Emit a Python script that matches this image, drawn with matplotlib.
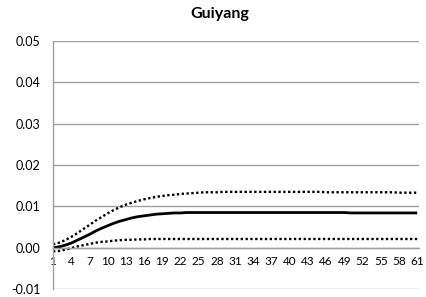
import numpy as np
import matplotlib
matplotlib.use('Agg')
import matplotlib.pyplot as plt

# ---------------------
# Data
# ---------------------
periods = list(range(1, 62))

response = [
    0.0000, 0.0002, 0.0006, 0.0011, 0.0018, 0.0025, 0.0032, 0.0040, 0.0047, 0.0053,
    0.0059, 0.0064, 0.0068, 0.0072, 0.0075, 0.0077, 0.0079, 0.0081, 0.0082, 0.0083,
    0.0084, 0.0084, 0.0085, 0.0085, 0.0085, 0.0085, 0.0085, 0.0085, 0.0085, 0.0085,
    0.0085, 0.0085, 0.0085, 0.0085, 0.0085, 0.0085, 0.0085, 0.0085, 0.0085, 0.0085,
    0.0085, 0.0085, 0.0085, 0.0085, 0.0085, 0.0085, 0.0085, 0.0085, 0.0085, 0.0084,
    0.0084, 0.0084, 0.0084, 0.0084, 0.0084, 0.0084, 0.0084, 0.0084, 0.0084, 0.0084,
    0.0084,
]

upper = [
    0.0008, 0.0012, 0.0018, 0.0026, 0.0035, 0.0045, 0.0055, 0.0065, 0.0074, 0.0083,
    0.0091, 0.0098, 0.0104, 0.0109, 0.0113, 0.0117, 0.0120, 0.0123, 0.0125, 0.0127,
    0.0128, 0.0130, 0.0131, 0.0132, 0.0133, 0.0134, 0.0134, 0.0134, 0.0135, 0.0135,
    0.0135, 0.0135, 0.0135, 0.0135, 0.0135, 0.0135, 0.0135, 0.0135, 0.0135, 0.0135,
    0.0135, 0.0135, 0.0135, 0.0135, 0.0135, 0.0134, 0.0134, 0.0134, 0.0134, 0.0134,
    0.0134, 0.0134, 0.0134, 0.0134, 0.0134, 0.0134, 0.0134, 0.0133, 0.0133, 0.0133,
    0.0133,
]

lower = [
    -0.0009, -0.0008, -0.0005, -0.0001, 0.0003, 0.0006, 0.0009, 0.0012, 0.0014, 0.0015,
    0.0017, 0.0018, 0.0019, 0.0019, 0.0020, 0.0020, 0.0021, 0.0021, 0.0021, 0.0021,
    0.0021, 0.0021, 0.0021, 0.0021, 0.0021, 0.0021, 0.0021, 0.0021, 0.0021, 0.0021,
    0.0021, 0.0021, 0.0021, 0.0021, 0.0021, 0.0021, 0.0021, 0.0021, 0.0021, 0.0021,
    0.0021, 0.0021, 0.0021, 0.0021, 0.0021, 0.0021, 0.0021, 0.0021, 0.0021, 0.0021,
    0.0021, 0.0021, 0.0021, 0.0021, 0.0021, 0.0021, 0.0021, 0.0021, 0.0021, 0.0021,
    0.0021,
]

y_ticks = [-0.01, 0.00, 0.01, 0.02, 0.03, 0.04, 0.05]
x_ticks = list(range(1, 62, 3))
title = 'Guiyang'

# ---------------------
# Plot
# ---------------------
plt.rcParams['font.family'] = ['Lato', 'DejaVu Sans']
grid_color = '#a0a0a0'

fig = plt.figure(figsize=(4.26, 2.97), dpi=100)
ax = fig.add_axes([53 / 426, 8 / 297, 366 / 426, 248 / 297])

ax.plot(periods, upper, color='black', lw=1.7, linestyle=(0, (1, 1.05)))
ax.plot(periods, lower, color='black', lw=1.7, linestyle=(0, (1, 1.05)))
ax.plot(periods, response, color='black', lw=2.0, solid_capstyle='butt')

ax.set_xlim(1, 61.3)
ax.set_ylim(-0.01, 0.05)
ax.set_yticks(y_ticks)
ax.set_yticklabels([f'{v:.2f}' for v in y_ticks])
ax.set_xticks(x_ticks)
ax.set_xticklabels([str(v) for v in x_ticks])

ax.grid(axis='y', color=grid_color, lw=1.0)
ax.set_axisbelow(True)
for side in ['top', 'right']:
    ax.spines[side].set_visible(False)
ax.spines['left'].set_color(grid_color)
ax.spines['left'].set_linewidth(1.0)
ax.spines['bottom'].set_position(('data', 0))
ax.spines['bottom'].set_color(grid_color)
ax.spines['bottom'].set_linewidth(1.0)

ax.tick_params(axis='y', length=0, pad=9, labelsize=9, colors='black')
ax.tick_params(axis='x', length=0, pad=6, labelsize=8.5, colors='black')

fig.text(220 / 426, 1 - 14 / 297, title, ha='center', va='center',
         fontsize=11.5, fontweight='bold')

fig.savefig('out.png', dpi=100)
